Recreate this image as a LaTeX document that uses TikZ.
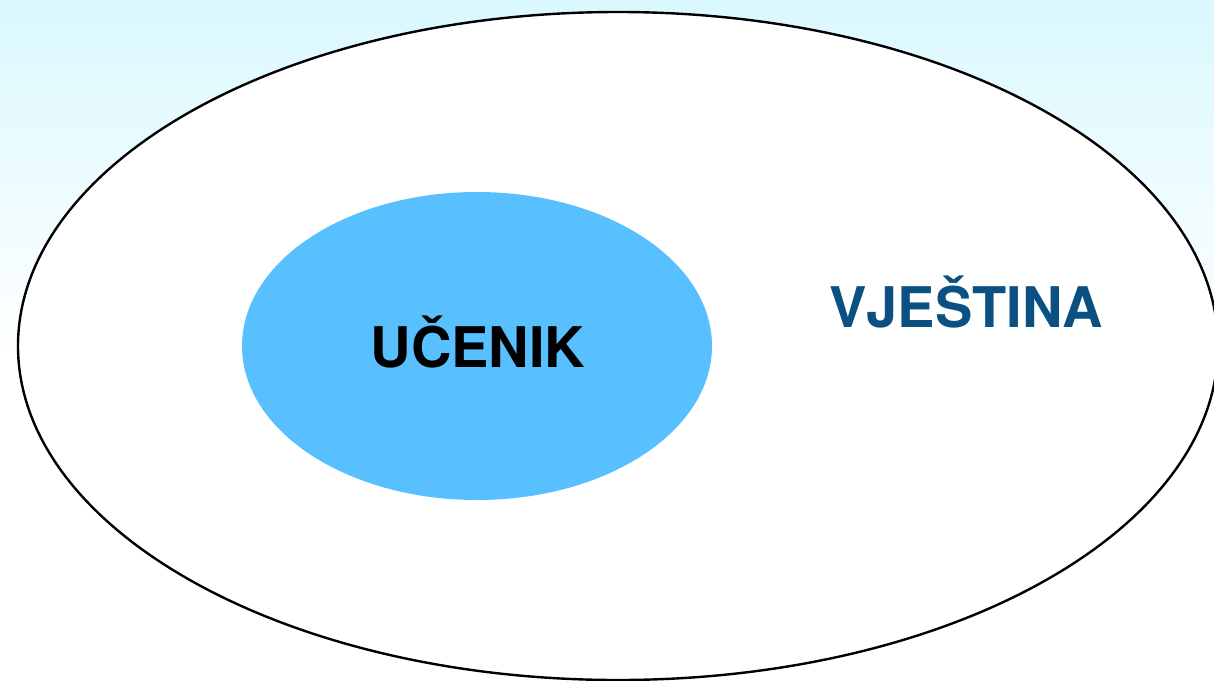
\documentclass[tikz,border=0pt]{standalone}
\usepackage{fontspec}
\setmainfont{TeX Gyre Heros}
\usetikzlibrary{shapes.geometric}
\definecolor{skyfill}{RGB}{88,192,255}
\definecolor{skilltext}{RGB}{10,80,130}
\definecolor{bgcyan}{RGB}{218,248,255}
\tikzset{
  OuterStyle/.style = { ellipse, draw = black, line width = 2.4pt,
                        inner sep = 0pt, fill = white,
                        minimum width = 1200pt, minimum height = 668pt },
  InnerStyle/.style = { ellipse, draw = none, fill = skyfill,
                        inner sep = 0pt,
                        minimum width = 470pt, minimum height = 308pt },
  LabelStyle/.style = { anchor = base, inner sep = 0pt,
                        font = \fontsize{56}{60}\selectfont\bfseries }
}

\begin{document}
\begin{tikzpicture}[x=1pt,y=-1pt]
  \useasboundingbox (0,0) rectangle (1214,680);
  % background
  \fill[white] (0,0) rectangle (1214,680);
  \shade[top color=bgcyan, bottom color=white] (0,0) rectangle (1214,360);

  \node[OuterStyle](SKILL) at (618,346) {};
  \node[InnerStyle](PUPIL) at (477,346) {};

  \node[LabelStyle, text=black](PUPILTXT) at (478,367) {UČENIK};
  \node[LabelStyle, text=skilltext](SKILLTXT) at (966,327) {VJEŠTINA};
\end{tikzpicture}
\end{document}
